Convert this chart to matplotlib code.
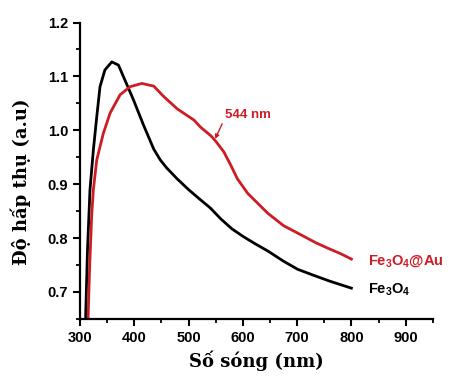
import numpy as np
import matplotlib
matplotlib.use('Agg')
import matplotlib.pyplot as plt
from matplotlib.ticker import MultipleLocator

plt.rcParams['mathtext.default'] = 'regular'

# Fe3O4 (black)
fe_nm = [310.5, 314, 318.5, 324.7, 331, 337, 346, 358.7, 371, 383, 398, 417, 436,
         448, 460, 479, 500, 522, 540, 559, 580, 602, 625, 646, 675, 701, 730, 760, 800]
fe_abs = [0.652, 0.78, 0.889, 0.963, 1.025, 1.081, 1.112, 1.127, 1.121, 1.093, 1.058,
          1.010, 0.965, 0.945, 0.930, 0.910, 0.890, 0.871, 0.856, 0.836, 0.817, 0.802,
          0.788, 0.776, 0.757, 0.742, 0.731, 0.720, 0.707]

# Fe3O4@Au (red)
au_nm = [315, 318, 321.6, 324.7, 331, 343, 355.6, 374, 392.6, 414, 436, 454, 479,
         510, 522, 541, 550, 565, 578, 590, 609, 646, 675, 707, 735, 757, 780, 800]
au_abs = [0.651, 0.75, 0.84, 0.889, 0.945, 0.994, 1.032, 1.066, 1.081, 1.087, 1.082,
          1.063, 1.040, 1.019, 1.006, 0.990, 0.980, 0.960, 0.935, 0.910, 0.883, 0.846,
          0.823, 0.806, 0.791, 0.781, 0.771, 0.761]

red = '#cc1c24'

fig = plt.figure(figsize=(4.49, 3.76), dpi=100)
ax = fig.add_axes([0.178, 0.152, 0.786, 0.788])

ax.plot(fe_nm, fe_abs, color='black', lw=2, solid_joinstyle='round')
ax.plot(au_nm, au_abs, color=red, lw=2, solid_joinstyle='round')

ax.set_xlim(300, 950)
ax.set_ylim(0.65, 1.2)
ax.xaxis.set_minor_locator(MultipleLocator(50))
ax.yaxis.set_minor_locator(MultipleLocator(0.05))
ax.set_xticks([300, 400, 500, 600, 700, 800, 900])
ax.set_yticks([0.7, 0.8, 0.9, 1.0, 1.1, 1.2])

for s in ['top', 'right']:
    ax.spines[s].set_visible(False)
for s in ['left', 'bottom']:
    ax.spines[s].set_linewidth(1.6)

ax.tick_params(which='major', length=5, width=1.5, direction='out')
ax.tick_params(which='minor', length=3, width=1.3, direction='out')
for lab in ax.get_xticklabels() + ax.get_yticklabels():
    lab.set_fontfamily('Liberation Sans')
    lab.set_fontweight('bold')
    lab.set_fontsize(10.5)

ax.set_xlabel('Số sóng (nm)', family='DejaVu Serif', fontweight='bold', fontsize=13, labelpad=4)
ax.set_ylabel('Độ hấp thụ (a.u)', family='DejaVu Serif', fontweight='bold', fontsize=13)
ax.yaxis.set_label_coords(-0.138, 0.462)

# 544 nm shoulder
ax.text(568, 1.028, '544 nm', color=red, fontsize=9.5, fontweight='bold',
        family='Liberation Sans', va='center', ha='left')
ax.annotate('', xy=(549, 0.984), xytext=(562, 1.012),
            arrowprops=dict(arrowstyle='-|>', color=red, lw=1, mutation_scale=6,
                            shrinkA=0, shrinkB=0))

ax.text(831, 0.758, 'Fe$_3$O$_4$@Au', color=red, fontsize=10.5, family='Liberation Sans',
        fontweight='bold', va='center')
ax.text(831, 0.703, 'Fe$_3$O$_4$', color='black', fontsize=10.5, family='Liberation Sans',
        fontweight='bold', va='center')

fig.savefig('out.png', dpi=100)
